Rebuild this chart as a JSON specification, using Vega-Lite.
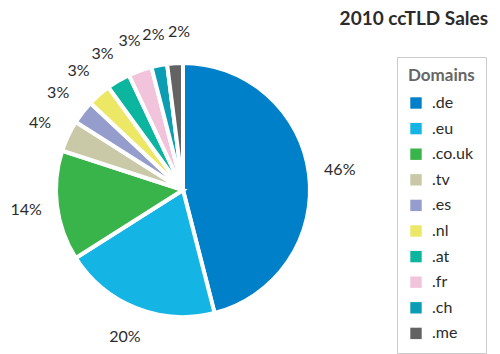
{
  "$schema": "https://vega.github.io/schema/vega-lite/v6.json",
  "autosize": {"type": "none"},
  "width": 366,
  "height": 300,
  "padding": {"left": 0, "top": 40, "right": 134, "bottom": 14},
  "background": "white",
  "title": {
    "text": "2010 ccTLD Sales",
    "anchor": "end",
    "frame": "group",
    "orient": "top",
    "offset": 13,
    "dx": 122,
    "dy": 18,
    "font": "Lato",
    "fontSize": 19,
    "fontWeight": "bold",
    "color": "#2b2b2b"
  },
  "config": {"view": {"stroke": null}},
  "data": {
    "values": [
      {"domain": ".de", "share": 0.46, "rank": 1},
      {"domain": ".eu", "share": 0.20, "rank": 2},
      {"domain": ".co.uk", "share": 0.14, "rank": 3},
      {"domain": ".tv", "share": 0.04, "rank": 4},
      {"domain": ".es", "share": 0.03, "rank": 5},
      {"domain": ".nl", "share": 0.03, "rank": 6},
      {"domain": ".at", "share": 0.03, "rank": 7},
      {"domain": ".fr", "share": 0.03, "rank": 8},
      {"domain": ".ch", "share": 0.02, "rank": 9},
      {"domain": ".me", "share": 0.02, "rank": 10}
    ]
  },
  "encoding": {
    "theta": {"field": "share", "type": "quantitative", "stack": true},
    "order": {"field": "rank", "type": "quantitative"}
  },
  "layer": [
    {
      "mark": {"type": "arc", "outerRadius": 127, "stroke": "white", "strokeWidth": 4},
      "encoding": {
        "color": {
          "field": "domain",
          "type": "nominal",
          "scale": {
            "domain": [".de", ".eu", ".co.uk", ".tv", ".es", ".nl", ".at", ".fr", ".ch", ".me"],
            "range": ["#0080C8", "#14B4E4", "#38B44A", "#C9C9A8", "#949DCB", "#EDE766", "#0BB59E", "#F2C4DC", "#0B9DB3", "#636363"]
          },
          "legend": {
            "title": "Domains",
            "orient": "none",
            "legendX": 397,
            "legendY": 17,
            "strokeColor": "#cccccc",
            "padding": 11,
            "titleFont": "Lato",
            "titleFontSize": 17,
            "titleFontWeight": "bold",
            "titleColor": "#666666",
            "titlePadding": 10,
            "labelFont": "Lato",
            "labelFontSize": 16,
            "labelColor": "#2b2b2b",
            "symbolType": "square",
            "symbolSize": 130,
            "symbolStrokeWidth": 0,
            "rowPadding": 9.6,
            "labelOffset": 8,
            "labelLimit": 120
          }
        }
      }
    },
    {
      "mark": {"type": "text", "radius": 158, "font": "Lato", "fontSize": 16, "color": "#2b2b2b"},
      "encoding": {
        "text": {"field": "share", "type": "quantitative", "format": ".0%"},
        "opacity": {"condition": {"test": "datum.domain === '.me'", "value": 0}, "value": 1}
      }
    },
    {
      "mark": {"type": "text", "radius": 158, "dx": 6, "font": "Lato", "fontSize": 16, "color": "#2b2b2b"},
      "encoding": {
        "text": {"field": "share", "type": "quantitative", "format": ".0%"},
        "opacity": {"condition": {"test": "datum.domain === '.me'", "value": 1}, "value": 0}
      }
    }
  ]
}
